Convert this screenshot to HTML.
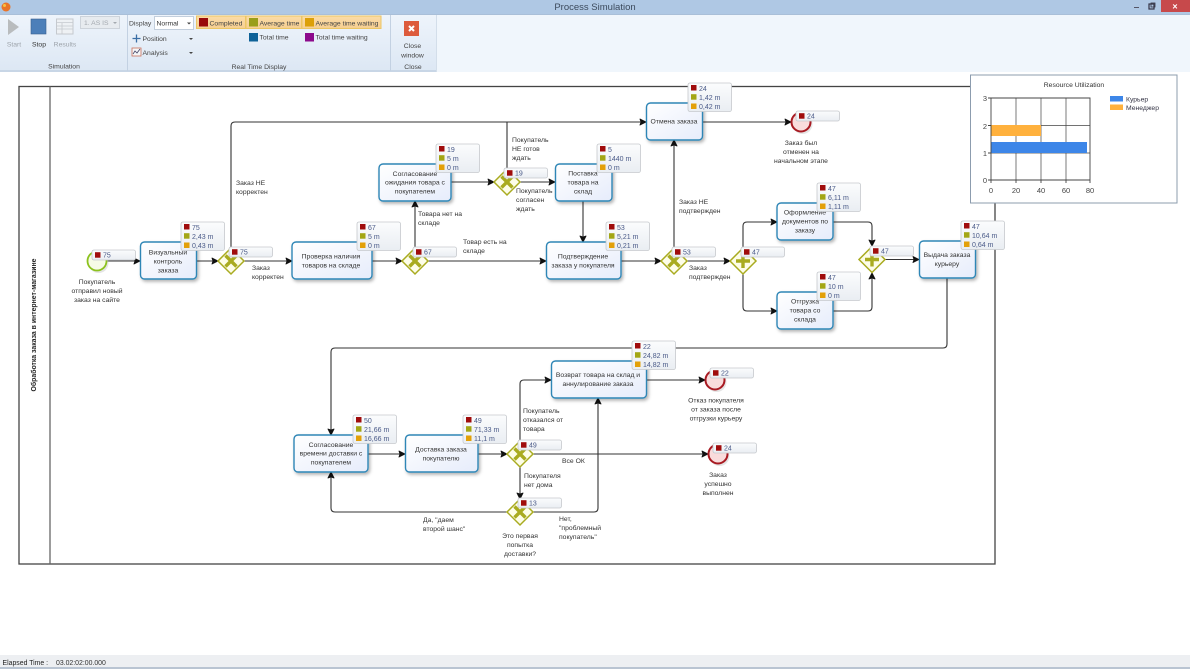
<!DOCTYPE html>
<html><head><meta charset="utf-8"><style>
html,body{margin:0;padding:0;background:#fff;overflow:hidden}
svg{display:block;font-family:"Liberation Sans",sans-serif;filter:blur(.3px)}
.l{font-size:6.8px;fill:#333;text-anchor:middle}
.ll{font-size:6.8px;fill:#333}
.t{font-size:6.8px;fill:#333;text-anchor:middle}
.n{font-size:7px;fill:#4a5a88}
.r{font-size:6.8px;fill:#444}
.c{fill:none;stroke:#333;stroke-width:1.1}
</style></head><body>
<svg width="1190" height="669" viewBox="0 0 1190 669" xmlns="http://www.w3.org/2000/svg">
<defs>
<linearGradient id="rb" x1="0" y1="0" x2="0" y2="1"><stop offset="0" stop-color="#eef4fb"/><stop offset="1" stop-color="#dce7f4"/></linearGradient>
<linearGradient id="tk" x1="0" y1="0" x2="1" y2="1"><stop offset="0" stop-color="#ffffff"/><stop offset="1" stop-color="#e6ecfb"/></linearGradient>
<linearGradient id="st" x1="0" y1="0" x2="0" y2="1"><stop offset="0" stop-color="#fbfcfd"/><stop offset="1" stop-color="#e9edf2"/></linearGradient>
<linearGradient id="or" x1="0" y1="0" x2="0" y2="1"><stop offset="0" stop-color="#fbdca8"/><stop offset="1" stop-color="#f6cf90"/></linearGradient>
<g id="s3"><rect x="0" y="0" width="43.5" height="28.5" rx="2" fill="url(#st)" stroke="#c6c9cd" stroke-width=".8"/><rect x="3" y="2" width="5.500" height="5.500" fill="#a00c0c"/><rect x="3" y="11.200" width="5.500" height="5.500" fill="#a3a615"/><rect x="3" y="20.500" width="5.500" height="5.500" fill="#e3a008"/></g>
<g id="s1"><rect x="0" y="0" width="43.5" height="10" rx="2" fill="url(#st)" stroke="#c6c9cd" stroke-width=".8"/><rect x="3" y="2.200" width="5.500" height="5.500" fill="#a00c0c"/></g>
<g id="gx"><path d="M0-13L13 0L0 13L-13 0Z" fill="#fdfde8" stroke="#a9ab20" stroke-width="1.500"/><path d="M-5.500-5.500L5.500 5.500M5.500-5.500L-5.500 5.500" stroke="#a9ab20" stroke-width="3.400"/></g>
<g id="gp"><path d="M0-13L13 0L0 13L-13 0Z" fill="#fdfde8" stroke="#a9ab20" stroke-width="1.500"/><path d="M-7 0H7M0-7V7" stroke="#a9ab20" stroke-width="3.400"/></g>
<g id="ev"><circle cx="1.500" cy="2" r="10" fill="#cccccc" opacity=".5"/><circle r="9.500" fill="#f9dcdc" stroke="#a81a22" stroke-width="2"/></g>
<filter id="sh" x="-10%" y="-10%" width="125%" height="130%"><feDropShadow dx="1.500" dy="2" stdDeviation="1.500" flood-color="#000" flood-opacity=".3"/></filter>
</defs>

<rect width="1190" height="669" fill="#fff"/>
<!-- title bar -->
<rect width="1190" height="14" fill="#afc8e4"/>
<circle cx="6" cy="7" r="4.500" fill="#e8742a"/>
<circle cx="4.500" cy="5.500" r="1.500" fill="#f7c243"/>
<text x="595" y="10" font-size="9.500" fill="#3c4a5c" text-anchor="middle">Process Simulation</text>
<rect x="1161" y="0" width="29" height="12" fill="#c7494b"/>
<text x="1175" y="9.500" font-size="9" font-weight="bold" fill="#fff" text-anchor="middle">×</text>
<rect x="1134" y="7" width="5" height="1" fill="#556"/>
<rect x="1149" y="4" width="5" height="5" fill="none" stroke="#334" stroke-width="1.200"/>
<rect x="1151" y="3" width="4" height="4" fill="none" stroke="#334" stroke-width=".8"/>
<!-- ribbon -->
<rect y="14" width="1190" height="58" fill="#f0f6fc"/>
<rect y="14" width="436" height="58" fill="url(#rb)"/>
<rect y="70" width="436" height="2" fill="#c8d6e6"/>
<rect x="127" y="15" width="1" height="56" fill="#c3d1e2"/>
<rect x="390" y="15" width="1" height="56" fill="#c3d1e2"/>
<rect x="436" y="14" width="1" height="58" fill="#d3deea"/>
<rect y="14" width="1190" height="1" fill="#a9bfd8"/>
<path d="M8 19L19 27L8 35Z" fill="#b9bcbe"/>
<rect x="31" y="19" width="15" height="15" fill="#4c7fb9" stroke="#3a5f8e" stroke-width=".6"/>
<rect x="56.500" y="19" width="16.500" height="15" fill="#eef1f4" stroke="#c5c9ce"/>
<path d="M57 22.500H73M57 26H73M57 29H73M62 23V34" stroke="#c5c9ce" stroke-width=".8"/>
<text x="14" y="46.500" font-size="6.800" fill="#9da3aa" text-anchor="middle">Start</text>
<text x="39" y="46.500" font-size="6.800" fill="#333" text-anchor="middle">Stop</text>
<text x="65" y="46.500" font-size="6.800" fill="#9da3aa" text-anchor="middle">Results</text>
<rect x="80.500" y="16.500" width="39" height="12" fill="#e7ebef" stroke="#cdd3da"/>
<text x="84" y="25" font-size="6.800" fill="#a4a9af">1. AS IS</text>
<path d="M113 22h4l-2 2z" fill="#a4a9af"/>
<text x="64" y="68.500" class="r" text-anchor="middle">Simulation</text>
<text x="129" y="25.500" class="r" font-size="6.800">Display</text>
<rect x="154.500" y="16.500" width="39" height="13" fill="#fff" stroke="#c2cedc"/>
<text x="156.500" y="25.500" font-size="6.800" fill="#333">Normal</text>
<path d="M187 22.500h4l-2 2z" fill="#444"/>
<path d="M132.500 38.500h8M136.500 34.500v8" stroke="#3a6ea5" stroke-width="1.300"/>
<text x="142.500" y="41" class="r">Position</text>
<path d="M189 38h4l-2 2z" fill="#444"/>
<rect x="132" y="48" width="9" height="8" fill="#f4f6f8" stroke="#c8705a" stroke-width=".8"/>
<path d="M133 54l2-3 2 2 3-4" stroke="#446" fill="none" stroke-width=".8"/>
<text x="142.500" y="55" class="r">Analysis</text>
<path d="M189 52h4l-2 2z" fill="#444"/>
<rect x="196.500" y="16" width="49" height="12.500" fill="url(#or)" stroke="#ecc664"/>
<rect x="246" y="16" width="55.500" height="12.500" fill="url(#or)" stroke="#ecc664"/>
<rect x="302" y="16" width="79" height="12.500" fill="url(#or)" stroke="#ecc664"/>
<rect x="199" y="18" width="9" height="8.500" fill="#990a0a"/>
<rect x="249" y="18" width="9" height="8.500" fill="#9a9e18"/>
<rect x="305" y="18" width="9" height="8.500" fill="#dca008"/>
<rect x="249" y="33" width="9" height="8.500" fill="#0f6298"/>
<rect x="305" y="33" width="9" height="8.500" fill="#8c0a8c"/>
<text x="209.500" y="25.500" class="r">Completed</text>
<text x="259.500" y="25.500" class="r">Average time</text>
<text x="315.500" y="25.500" class="r">Average time waiting</text>
<text x="259.500" y="39.500" class="r">Total time</text>
<text x="315.500" y="39.500" class="r">Total time waiting</text>
<text x="259" y="69" class="r" text-anchor="middle">Real Time Display</text>
<rect x="404" y="21" width="15" height="15" fill="#dd5b3c"/>
<path d="M409 26l5 5M414 26l-5 5" stroke="#fff" stroke-width="2"/>
<text x="412.500" y="48" class="r" text-anchor="middle">Close</text>
<text x="412.500" y="57.500" class="r" text-anchor="middle">window</text>
<text x="413" y="69" class="r" text-anchor="middle">Close</text>
<!-- status -->
<rect y="655" width="1190" height="14" fill="#edeff2"/>
<rect y="667" width="1190" height="2" fill="#b9c4d2"/>
<text x="2.500" y="665" font-size="6.900" fill="#222">Elapsed Time :</text>
<text x="56" y="665" font-size="6.900" fill="#333">03.02:02:00.000</text>

<!-- pool -->
<rect x="19" y="86.500" width="976" height="477.500" fill="#fff" stroke="#444" stroke-width="1.300"/>
<path d="M50 86.500V564" stroke="#666" stroke-width="1.300"/>
<text transform="translate(36,325) rotate(-90)" font-size="6.900" font-weight="bold" fill="#222" text-anchor="middle">Обработка заказа в интернет-магазине</text>

<!-- connectors -->
<g class="c">
<path d="M107 261H140"/><path d="M197 261H218"/><path d="M244 261H292"/>
<path d="M231 248V126Q231 122 235 122H646"/>
<path d="M372 261H402"/><path d="M415 248V201"/><path d="M428 261H546"/>
<path d="M451 182H494"/><path d="M520 182H555"/><path d="M507 169V122"/>
<path d="M583 201V242"/><path d="M621 261H661"/><path d="M674 248V140"/>
<path d="M687 261H730"/>
<path d="M743 248V226Q743 222 747 222H777"/><path d="M743 274V307Q743 311 747 311H777"/>
<path d="M833 222H868Q872 222 872 226V246"/><path d="M833 311H868Q872 311 872 307V273"/>
<path d="M885 259.500H919"/>
<path d="M947 278V344Q947 348 943 348H335Q331 348 331 352V435"/>
<path d="M368 454H405"/><path d="M478 454H507"/>
<path d="M520 441V384Q520 380 524 380H551"/>
<path d="M533 454H708"/><path d="M646 380H705"/><path d="M702 122H791"/>
<path d="M520 467V499"/>
<path d="M507 512H335Q331 512 331 508V472"/>
<path d="M533 512H594Q598 512 598 508V398"/>
</g>
<!-- arrowheads -->
<g fill="#111" stroke="#111" stroke-width=".9" stroke-linejoin="round">
<path d="M134 258l6 3-6 3 1-3z"/><path d="M212 258l6 3-6 3 1-3z"/><path d="M286 258l6 3-6 3 1-3z"/>
<path d="M640 119l6 3-6 3 1-3z"/><path d="M396 258l6 3-6 3 1-3z"/><path d="M540 258l6 3-6 3 1-3z"/>
<path d="M488 179l6 3-6 3 1-3z"/><path d="M549 179l6 3-6 3 1-3z"/><path d="M655 258l6 3-6 3 1-3z"/>
<path d="M724 258l6 3-6 3 1-3z"/><path d="M771 219l6 3-6 3 1-3z"/><path d="M771 308l6 3-6 3 1-3z"/>
<path d="M913 256.500l6 3-6 3 1-3z"/><path d="M399 451l6 3-6 3 1-3z"/><path d="M501 451l6 3-6 3 1-3z"/>
<path d="M545 377l6 3-6 3 1-3z"/><path d="M702 451l6 3-6 3 1-3z"/><path d="M699 377l6 3-6 3 1-3z"/><path d="M785 119l6 3-6 3 1-3z"/>
<path d="M412 207l3-6 3 6-3-1z"/><path d="M671 146l3-6 3 6-3-1z"/><path d="M869 279l3-6 3 6-3-1z"/><path d="M328 478l3-6 3 6-3-1z"/><path d="M595 404l3-6 3 6-3-1z"/>
<path d="M580 236l3 6 3-6-3 1z"/><path d="M869 240l3 6 3-6-3 1z"/><path d="M328 429l3 6 3-6-3 1z"/><path d="M517 493l3 6 3-6-3 1z"/>
</g>

<!-- tasks -->
<g fill="url(#tk)" stroke="#2f86b6" stroke-width="1.400" filter="url(#sh)">
<rect x="140.500" y="242" width="56" height="37" rx="4"/>
<rect x="292" y="242" width="80" height="37" rx="4"/>
<rect x="379" y="164" width="72" height="37" rx="4"/>
<rect x="555.500" y="164" width="56.500" height="37" rx="4"/>
<rect x="546.500" y="242" width="74.500" height="37" rx="4"/>
<rect x="646.500" y="103" width="56" height="37" rx="4"/>
<rect x="777" y="203" width="56" height="37" rx="4"/>
<rect x="777" y="292" width="56" height="37" rx="4"/>
<rect x="919.500" y="241" width="56" height="37" rx="4"/>
<rect x="294" y="435" width="74" height="37" rx="4"/>
<rect x="405.500" y="435" width="72.500" height="37" rx="4"/>
<rect x="551.500" y="361" width="95" height="37" rx="4"/>
</g>
<g class="t">
<text class="t" x="168" y="254.500">Визуальный</text><text class="t" x="168" y="263.500">контроль</text><text class="t" x="168" y="272.500">заказа</text>
<text class="t" x="331" y="258.500">Проверка наличия</text><text class="t" x="331" y="267.500">товаров на складе</text>
<text class="t" x="415" y="176">Согласование</text><text class="t" x="415" y="184.500">ожидания товара с</text><text class="t" x="415" y="193.500">покупателем</text>
<text class="t" x="583" y="175.500">Поставка</text><text class="t" x="583" y="184.500">товара на</text><text class="t" x="583" y="193.500">склад</text>
<text class="t" x="583" y="258.500">Подтверждение</text><text class="t" x="583" y="267.500">заказа у покупателя</text>
<text class="t" x="674" y="123.500">Отмена заказа</text>
<text class="t" x="805" y="214.500">Оформление</text><text class="t" x="805" y="223.500">документов по</text><text class="t" x="805" y="232.500">заказу</text>
<text class="t" x="805" y="303.500">Отгрузка</text><text class="t" x="805" y="312.500">товара со</text><text class="t" x="805" y="321.500">склада</text>
<text class="t" x="947" y="257">Выдача заказа</text><text class="t" x="947" y="266">курьеру</text>
<text class="t" x="331" y="447">Согласование</text><text class="t" x="331" y="455.500">времени доставки с</text><text class="t" x="331" y="464.500">покупателем</text>
<text class="t" x="441" y="451.500">Доставка заказа</text><text class="t" x="441" y="460.500">покупателю</text>
<text class="t" x="598" y="377">Возврат товара на склад и</text><text class="t" x="598" y="386">аннулирование заказа</text>
</g>

<!-- gateways -->
<use href="#gx" x="231" y="261"/><use href="#gx" x="415" y="261"/><use href="#gx" x="507" y="182"/><use href="#gx" x="674" y="261"/>
<use href="#gp" x="743" y="261"/><use href="#gp" x="872" y="259.500"/>
<use href="#gx" x="520" y="454"/><use href="#gx" x="520" y="512"/>
<!-- events -->
<circle cx="98.500" cy="263" r="10" fill="#ccc" opacity=".5"/>
<circle cx="97" cy="261" r="9.500" fill="#f6fbe6" stroke="#8cc21e" stroke-width="1.800"/>
<use href="#ev" x="801" y="122"/><use href="#ev" x="715" y="380"/><use href="#ev" x="718" y="454"/>

<!-- stat boxes 3 row -->
<use href="#s3" x="181" y="222"/><text class="n" x="192" y="230">75</text><text class="n" x="192" y="239">2,43 m</text><text class="n" x="192" y="248">0,43 m</text>
<use href="#s3" x="357" y="222"/><text class="n" x="368" y="230">67</text><text class="n" x="368" y="239">5 m</text><text class="n" x="368" y="248">0 m</text>
<use href="#s3" x="436" y="144"/><text class="n" x="447" y="152">19</text><text class="n" x="447" y="161">5 m</text><text class="n" x="447" y="170">0 m</text>
<use href="#s3" x="597" y="144"/><text class="n" x="608" y="152">5</text><text class="n" x="608" y="161">1440 m</text><text class="n" x="608" y="170">0 m</text>
<use href="#s3" x="606" y="222"/><text class="n" x="617" y="230">53</text><text class="n" x="617" y="239">5,21 m</text><text class="n" x="617" y="248">0,21 m</text>
<use href="#s3" x="688" y="83"/><text class="n" x="699" y="91">24</text><text class="n" x="699" y="100">1,42 m</text><text class="n" x="699" y="109">0,42 m</text>
<use href="#s3" x="817" y="183"/><text class="n" x="828" y="191">47</text><text class="n" x="828" y="200">6,11 m</text><text class="n" x="828" y="209">1,11 m</text>
<use href="#s3" x="817" y="272"/><text class="n" x="828" y="280">47</text><text class="n" x="828" y="289">10 m</text><text class="n" x="828" y="298">0 m</text>
<use href="#s3" x="961" y="221"/><text class="n" x="972" y="229">47</text><text class="n" x="972" y="238">10,64 m</text><text class="n" x="972" y="247">0,64 m</text>
<use href="#s3" x="632" y="341"/><text class="n" x="643" y="349">22</text><text class="n" x="643" y="358">24,82 m</text><text class="n" x="643" y="367">14,82 m</text>
<use href="#s3" x="353" y="415"/><text class="n" x="364" y="423">50</text><text class="n" x="364" y="432">21,66 m</text><text class="n" x="364" y="441">16,66 m</text>
<use href="#s3" x="463" y="415"/><text class="n" x="474" y="423">49</text><text class="n" x="474" y="432">71,33 m</text><text class="n" x="474" y="441">11,1 m</text>

<!-- stat boxes single -->
<use href="#s1" x="92" y="250"/><text class="n" x="103" y="257.500">75</text>
<use href="#s1" x="229" y="247"/><text class="n" x="240" y="254.500">75</text>
<use href="#s1" x="413" y="247"/><text class="n" x="424" y="254.500">67</text>
<use href="#s1" x="504" y="168"/><text class="n" x="515" y="175.500">19</text>
<use href="#s1" x="672" y="247"/><text class="n" x="683" y="254.500">53</text>
<use href="#s1" x="741" y="247"/><text class="n" x="752" y="254.500">47</text>
<use href="#s1" x="870" y="246"/><text class="n" x="881" y="253.500">47</text>
<use href="#s1" x="796" y="111"/><text class="n" x="807" y="118.500">24</text>
<use href="#s1" x="710" y="368"/><text class="n" x="721" y="375.500">22</text>
<use href="#s1" x="713" y="443"/><text class="n" x="724" y="450.500">24</text>
<use href="#s1" x="518" y="440"/><text class="n" x="529" y="447.500">49</text>
<use href="#s1" x="518" y="498"/><text class="n" x="529" y="505.500">13</text>

<!-- labels -->
<text class="l" x="97" y="284">Покупатель</text><text class="l" x="97" y="293">отправил новый</text><text class="l" x="97" y="302">заказ на сайте</text>
<text class="ll" x="236" y="185">Заказ НЕ</text><text class="ll" x="236" y="194">корректен</text>
<text class="ll" x="252" y="270">Заказ</text><text class="ll" x="252" y="279">корректен</text>
<text class="ll" x="418" y="216">Товара нет на</text><text class="ll" x="418" y="225">складе</text>
<text class="ll" x="463" y="244">Товар есть на</text><text class="ll" x="463" y="253">складе</text>
<text class="ll" x="512" y="142">Покупатель</text><text class="ll" x="512" y="151">НЕ готов</text><text class="ll" x="512" y="160">ждать</text>
<text class="ll" x="516" y="193">Покупатель</text><text class="ll" x="516" y="202">согласен</text><text class="ll" x="516" y="211">ждать</text>
<text class="ll" x="679" y="204">Заказ НЕ</text><text class="ll" x="679" y="213">подтвержден</text>
<text class="ll" x="689" y="270">Заказ</text><text class="ll" x="689" y="279">подтвержден</text>
<text class="l" x="801" y="145">Заказ был</text><text class="l" x="801" y="154">отменен на</text><text class="l" x="801" y="163">начальном этапе</text>
<text class="l" x="716" y="402.500">Отказ покупателя</text><text class="l" x="716" y="411.500">от заказа после</text><text class="l" x="716" y="420.500">отгрузки курьеру</text>
<text class="l" x="718" y="477">Заказ</text><text class="l" x="718" y="486">успешно</text><text class="l" x="718" y="495">выполнен</text>
<text class="ll" x="523" y="413">Покупатель</text><text class="ll" x="523" y="422">отказался от</text><text class="ll" x="523" y="431">товара</text>
<text class="ll" x="562" y="463">Все ОК</text>
<text class="ll" x="524" y="478">Покупателя</text><text class="ll" x="524" y="487">нет дома</text>
<text class="ll" x="423" y="522">Да, "даем</text><text class="ll" x="423" y="531">второй шанс"</text>
<text class="ll" x="559" y="521">Нет,</text><text class="ll" x="559" y="530">"проблемный</text><text class="ll" x="559" y="539">покупатель"</text>
<text class="l" x="520" y="538">Это первая</text><text class="l" x="520" y="547">попытка</text><text class="l" x="520" y="556">доставки?</text>

<!-- chart -->
<rect x="970.500" y="75" width="206.500" height="128" fill="#fff" stroke="#8c9cae" stroke-width="1"/>
<text x="1074" y="87" font-size="6.800" fill="#333" text-anchor="middle">Resource Utilization</text>
<path d="M1016 98V180M1041 98V180M1066 98V180" stroke="#999" stroke-width="1.300"/>
<path d="M991 125.500H1090M991 153H1090" stroke="#444" stroke-width=".8"/>
<rect x="991" y="125" width="50" height="11" fill="#ffb13d"/>
<rect x="991" y="142" width="96" height="11" fill="#3d86e8"/>
<path d="M991 98H1090V180H991ZM988 98H991M988 125.500H991M988 153H991M988 180H991M991 180V183M1016 180V183M1041 180V183M1066 180V183M1090 180V183" fill="none" stroke="#444" stroke-width=".9"/>
<g font-size="7.500" fill="#444" text-anchor="end">
<text x="987" y="101">3</text><text x="987" y="129">2</text><text x="987" y="156">1</text><text x="987" y="183">0</text>
</g>
<g font-size="7.500" fill="#444" text-anchor="middle">
<text x="991" y="193">0</text><text x="1016" y="193">20</text><text x="1041" y="193">40</text><text x="1066" y="193">60</text><text x="1090" y="193">80</text>
</g>
<rect x="1110" y="96" width="13" height="5.500" fill="#3d86e8"/>
<rect x="1110" y="104.500" width="13" height="5.500" fill="#ffb13d"/>
<text x="1126" y="101.500" font-size="6.800" fill="#334">Курьер</text>
<text x="1126" y="110" font-size="6.800" fill="#334">Менеджер</text>
</svg>
</body></html>
